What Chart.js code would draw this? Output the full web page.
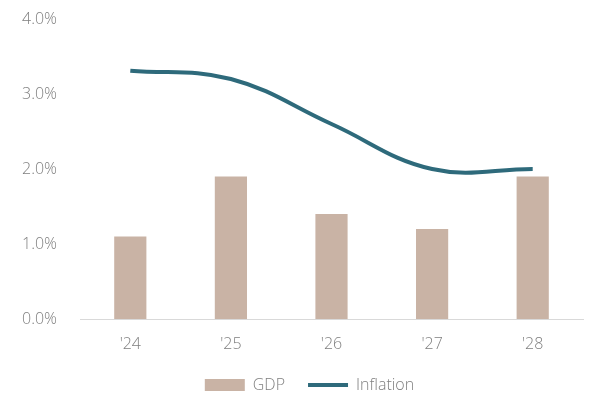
<!DOCTYPE html>
<html>
<head>
<meta charset="utf-8">
<script src="https://cdn.jsdelivr.net/npm/chart.js@4/dist/chart.umd.min.js"></script>
<style>
  html, body { margin: 0; padding: 0; background: #ffffff; }
  #wrap { width: 591px; height: 398px; }
</style>
</head>
<body>
<div id="wrap"><canvas id="chart"></canvas></div>
<script>
const years = ["'24", "'25", "'26", "'27", "'28"];
const gdp = [1.1, 1.9, 1.4, 1.2, 1.9];
const inflation = [3.31, 3.2, 2.6, 2.0, 2.0];

const tickFont = { family: 'Open Sans', size: 16, weight: '300' };

// nudge the legend a little to the right, like the original
const legendShift = {
    id: 'legendShift',
    afterLayout(chart) {
        chart.legend.left += 14;
    },
};

const ctx = document.getElementById('chart').getContext('2d');
new Chart(ctx, {
    type: 'bar',
    data: {
        labels: years,
        datasets: [
            {
                label: 'GDP',
                data: gdp,
                backgroundColor: '#c9b3a5',
                borderWidth: 0,
                barPercentage: 0.32,
                categoryPercentage: 1,
                pointStyle: 'rect',
                order: 2,
            },
            {
                label: 'Inflation',
                type: 'line',
                data: inflation,
                borderColor: '#2e6a7b',
                backgroundColor: '#2e6a7b',
                borderWidth: 4,
                pointRadius: 0,
                pointStyle: 'line',
                tension: 0.4,
                order: 1,
            },
        ],
    },
    plugins: [legendShift],
    options: {
        responsive: true,
        maintainAspectRatio: false,
        animation: false,
        layout: { padding: { top: 19, right: 8, left: 22, bottom: -5 } },
        plugins: {
            legend: {
                position: 'bottom',
                labels: {
                    usePointStyle: true,
                    pointStyleWidth: 40,
                    boxHeight: 12,
                    padding: 23,
                    color: '#7f7f7f',
                    font: { family: 'Open Sans', size: 16, weight: '300' },
                    sort: (a, b) => a.datasetIndex - b.datasetIndex,
                },
            },
            tooltip: { enabled: false },
        },
        scales: {
            x: {
                afterFit: (scale) => { scale.height = 35; },
                grid: { display: false, drawTicks: false },
                border: { color: '#d9d9d9', width: 1 },
                ticks: {
                    padding: 16,
                    color: '#7f7f7f',
                    font: tickFont,
                },
            },
            y: {
                min: 0,
                max: 4,
                afterFit: (scale) => { scale.width = 58; },
                grid: { display: false, drawTicks: false },
                border: { display: false },
                ticks: {
                    stepSize: 1,
                    padding: 0,
                    crossAlign: 'far',
                    color: '#7f7f7f',
                    font: tickFont,
                    callback: (v) => v.toFixed(1) + '%',
                },
            },
        },
    },
});
</script>
</body>
</html>
